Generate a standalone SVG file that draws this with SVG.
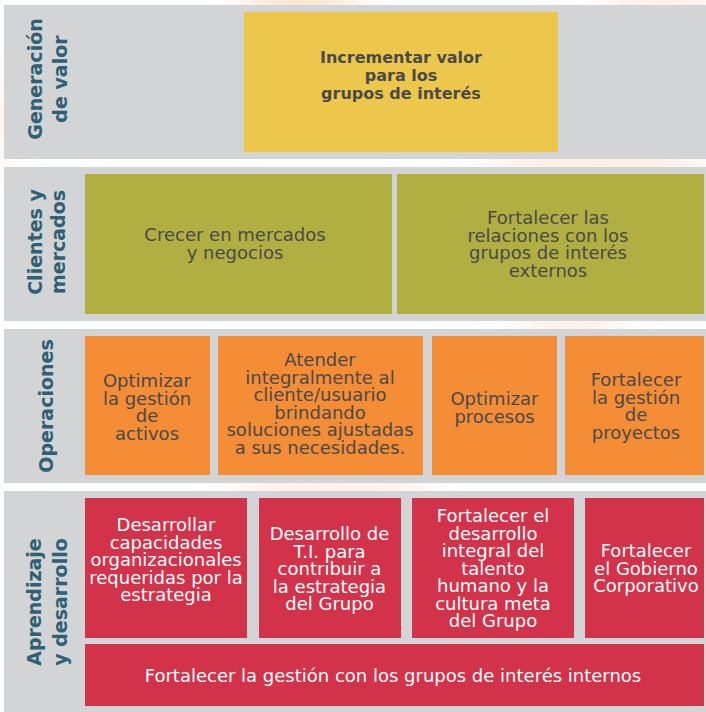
<svg xmlns="http://www.w3.org/2000/svg" width="706" height="712" viewBox="0 0 706 712">
  <defs>
    <filter id="soft" x="-50%" y="-50%" width="200%" height="200%">
      <feGaussianBlur stdDeviation="18"/>
    </filter>
    <style>
      .band { fill: #D3D4D6; }
      .yellow { fill: #EDC74C; }
      .olive { fill: #B1AE42; }
      .orange { fill: #F58C36; }
      .red { fill: #D3334A; }
      .side { font-family: "DejaVu Sans", "Liberation Sans", sans-serif; font-weight: bold; font-size: 19px; fill: #2F6074; text-anchor: middle; }
      .t { font-family: "DejaVu Sans", "Liberation Sans", sans-serif; font-size: 18px; fill: #4A4A48; text-anchor: middle; }
      .tb { font-family: "DejaVu Sans", "Liberation Sans", sans-serif; font-weight: bold; font-size: 16px; fill: #4A4A48; text-anchor: middle; }
      .w { fill: #FFFFFF; }
    </style>
  </defs>

  <!-- page background with faint watermark tint -->
  <rect x="0" y="0" width="706" height="712" fill="#FFFFFF"/>
  <g filter="url(#soft)" opacity="0.55">
    <ellipse cx="300" cy="0" rx="60" ry="18" fill="#F7B98A"/>
    <ellipse cx="660" cy="2" rx="60" ry="14" fill="#F9CFAE"/>
    <ellipse cx="600" cy="163" rx="120" ry="12" fill="#F7C39A"/>
    <ellipse cx="570" cy="325" rx="60" ry="10" fill="#F7C39A"/>
    <ellipse cx="330" cy="487" rx="110" ry="10" fill="#F7C39A"/>
    <ellipse cx="0" cy="120" rx="10" ry="60" fill="#F9D6C4"/>
  </g>

  <!-- category bands -->
  <g id="bands">
    <rect class="band" x="4" y="5" width="702" height="154"/>
    <rect class="band" x="4" y="167" width="702" height="154"/>
    <rect class="band" x="4" y="329" width="702" height="154"/>
    <rect class="band" x="4" y="491" width="702" height="221"/>
  </g>

  <!-- band titles -->
  <g id="label-generacion">
    <text class="side" transform="translate(0,79) rotate(-90)"><tspan x="0" y="42">Generación</tspan><tspan x="0" y="67">de valor</tspan></text>
  </g>
  <g id="label-clientes">
    <text class="side" transform="translate(0,242) rotate(-90)"><tspan x="0" y="42">Clientes y</tspan><tspan x="0" y="65">mercados</tspan></text>
  </g>
  <g id="label-operaciones">
    <text class="side" transform="translate(0,406) rotate(-90)"><tspan x="0" y="53">Operaciones</tspan></text>
  </g>
  <g id="label-aprendizaje">
    <text class="side" transform="translate(0,602) rotate(-90)"><tspan x="0" y="41">Aprendizaje</tspan><tspan x="0" y="67">y desarrollo</tspan></text>
  </g>

  <!-- value generation -->
  <g id="node-incrementar">
    <rect class="yellow" x="244" y="12" width="314" height="140"/>
    <text class="tb"><tspan x="401" y="63">Incrementar valor</tspan><tspan x="401" y="81">para los</tspan><tspan x="401" y="99">grupos de interés</tspan></text>
  </g>

  <!-- customers and markets -->
  <g id="node-crecer">
    <rect class="olive" x="85" y="174" width="307" height="140"/>
    <text class="t"><tspan x="235" y="241">Crecer en mercados</tspan><tspan x="235" y="258.5">y negocios</tspan></text>
  </g>
  <g id="node-relaciones-externas">
    <rect class="olive" x="397" y="174" width="307" height="140"/>
    <text class="t"><tspan x="548" y="224">Fortalecer las</tspan><tspan x="548" y="241.5">relaciones con los</tspan><tspan x="548" y="259">grupos de interés</tspan><tspan x="548" y="276.5">externos</tspan></text>
  </g>

  <!-- operations -->
  <g id="node-activos">
    <rect class="orange" x="85" y="336" width="125" height="139"/>
    <text class="t"><tspan x="147" y="387">Optimizar</tspan><tspan x="147" y="404.5">la gestión</tspan><tspan x="147" y="422">de</tspan><tspan x="147" y="439.5">activos</tspan></text>
  </g>
  <g id="node-atender">
    <rect class="orange" x="218" y="336" width="205" height="139"/>
    <text class="t"><tspan x="320" y="366">Atender</tspan><tspan x="320" y="383.5">integralmente al</tspan><tspan x="320" y="401">cliente/usuario</tspan><tspan x="320" y="418.5">brindando</tspan><tspan x="320" y="436">soluciones ajustadas</tspan><tspan x="320" y="453.5">a sus necesidades.</tspan></text>
  </g>
  <g id="node-procesos">
    <rect class="orange" x="432" y="336" width="125" height="139"/>
    <text class="t"><tspan x="494.5" y="405">Optimizar</tspan><tspan x="494.5" y="422.5">procesos</tspan></text>
  </g>
  <g id="node-proyectos">
    <rect class="orange" x="565" y="336" width="139" height="139"/>
    <text class="t"><tspan x="636" y="386">Fortalecer</tspan><tspan x="636" y="403.5">la gestión</tspan><tspan x="636" y="421">de</tspan><tspan x="636" y="438.5">proyectos</tspan></text>
  </g>

  <!-- learning and development -->
  <g id="node-capacidades">
    <rect class="red" x="85" y="498" width="162" height="140"/>
    <text class="t w"><tspan x="166" y="531">Desarrollar</tspan><tspan x="166" y="548.5">capacidades</tspan><tspan x="166" y="566">organizacionales</tspan><tspan x="166" y="583.5">requeridas por la</tspan><tspan x="166" y="601">estrategia</tspan></text>
  </g>
  <g id="node-ti">
    <rect class="red" x="259" y="498" width="142" height="140"/>
    <text class="t w"><tspan x="329.5" y="540">Desarrollo de</tspan><tspan x="329.5" y="557.5">T.I. para</tspan><tspan x="329.5" y="575">contribuir a</tspan><tspan x="329.5" y="592.5">la estrategia</tspan><tspan x="329.5" y="610">del Grupo</tspan></text>
  </g>
  <g id="node-talento">
    <rect class="red" x="412" y="498" width="162" height="140"/>
    <text class="t w"><tspan x="493" y="522">Fortalecer el</tspan><tspan x="493" y="539.5">desarrollo</tspan><tspan x="493" y="557">integral del</tspan><tspan x="493" y="574.5">talento</tspan><tspan x="493" y="592">humano y la</tspan><tspan x="493" y="609.5">cultura meta</tspan><tspan x="493" y="627">del Grupo</tspan></text>
  </g>
  <g id="node-gobierno">
    <rect class="red" x="585" y="498" width="119" height="140"/>
    <text class="t w"><tspan x="646" y="557">Fortalecer</tspan><tspan x="646" y="574.5">el Gobierno</tspan><tspan x="646" y="592">Corporativo</tspan></text>
  </g>
  <g id="node-grupos-internos">
    <rect class="red" x="85" y="644" width="619" height="62"/>
    <text class="t w"><tspan x="393" y="682">Fortalecer la gestión con los grupos de interés internos</tspan></text>
  </g>

  <!-- the map has no connectors -->
  <g id="connectors"/>
</svg>
